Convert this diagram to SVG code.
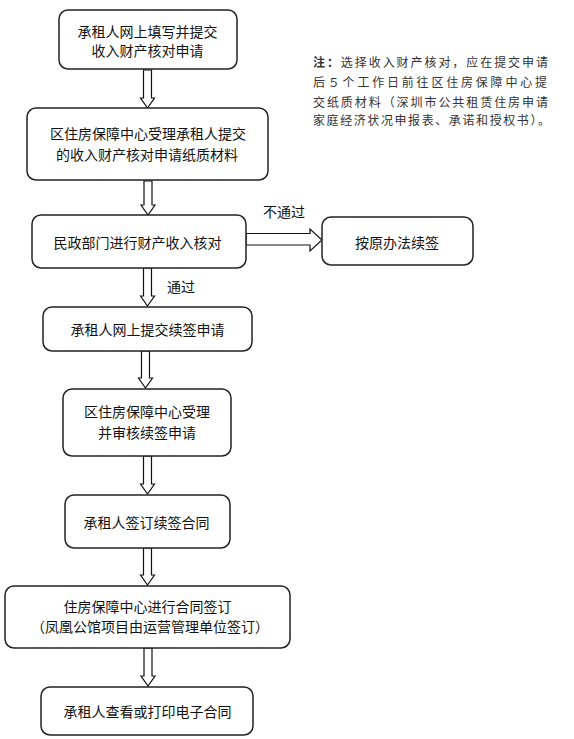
<svg xmlns="http://www.w3.org/2000/svg" width="574" height="739" viewBox="0 0 574 739">
<style>
.box{fill:#fff;stroke:#222;stroke-width:1.5}
.t{font-family:"Noto Sans CJK SC","Liberation Sans",sans-serif;font-size:14px;fill:#111;text-anchor:middle}
.n{font-family:"Noto Sans CJK SC","Liberation Serif",serif;font-size:12px;fill:#333}
.arr{fill:#fff;stroke:#111;stroke-width:1.2;stroke-linejoin:miter}
</style>
<rect width="574" height="739" fill="#fff"/>
<g id="connectors">
<polygon class="arr" points="143.5,70 151.5,70 151.5,98 154.5,98 147.5,108 140.5,98 143.5,98"/>
<polygon class="arr" points="144,181 152,181 152,205 155,205 148,215 141,205 144,205"/>
<polygon class="arr" points="143.5,268 151.5,268 151.5,296 154.5,296 147.5,306 140.5,296 143.5,296"/>
<polygon class="arr" points="141.5,351 149.5,351 149.5,378 152.5,378 145.5,388 138.5,378 141.5,378"/>
<polygon class="arr" points="143.5,456 151.5,456 151.5,484 154.5,484 147.5,494 140.5,484 143.5,484"/>
<polygon class="arr" points="143.5,548 151.5,548 151.5,575 154.5,575 147.5,585 140.5,575 143.5,575"/>
<polygon class="arr" points="144,648 152,648 152,676 155,676 148,686 141,676 144,676"/>
<polygon class="arr" points="246,233.5 310,233.5 310,229 322,240 310,251 310,245 246,245"/>
<text class="t" x="284" y="217">不通过</text>
<text class="t" x="181" y="292">通过</text>
</g>
<g id="n1"><rect class="box" x="59" y="10" width="178" height="59" rx="9"/>
<text class="t" x="147.5" y="37">承租人网上填写并提交</text>
<text class="t" x="147.5" y="55.5">收入财产核对申请</text></g>
<g id="n2"><rect class="box" x="27" y="108" width="241" height="72" rx="9"/>
<text class="t" x="148" y="139">区住房保障中心受理承租人提交</text>
<text class="t" x="147" y="160">的收入财产核对申请纸质材料</text></g>
<g id="n3"><rect class="box" x="32" y="215" width="214" height="53" rx="9"/>
<text class="t" x="137.5" y="248">民政部门进行财产收入核对</text></g>
<g id="n4"><rect class="box" x="322" y="217" width="151" height="48" rx="9"/>
<text class="t" x="397" y="248">按原办法续签</text></g>
<g id="n5"><rect class="box" x="43" y="307" width="209" height="44" rx="9"/>
<text class="t" x="147.5" y="335">承租人网上提交续签申请</text></g>
<g id="n6"><rect class="box" x="63" y="389" width="168" height="67" rx="9"/>
<text class="t" x="147" y="417">区住房保障中心受理</text>
<text class="t" x="147" y="438">并审核续签申请</text></g>
<g id="n7"><rect class="box" x="65" y="495" width="165" height="53" rx="9"/>
<text class="t" x="146.5" y="528">承租人签订续签合同</text></g>
<g id="n8"><rect class="box" x="5" y="586" width="285" height="62" rx="9"/>
<text class="t" x="147.5" y="612">住房保障中心进行合同签订</text>
<text class="t" x="150" y="632">（凤凰公馆项目由运营管理单位签订）</text></g>
<g id="n9"><rect class="box" x="41" y="687" width="212" height="48" rx="9"/>
<text class="t" x="147.5" y="717">承租人查看或打印电子合同</text></g>
<g id="note">
<text class="n" x="313" y="66.5" textLength="235" lengthAdjust="spacing"><tspan font-weight="bold">注：</tspan>选择收入财产核对，应在提交申请</text>
<text class="n" x="313" y="86.5" textLength="234" lengthAdjust="spacing">后５个工作日前往区住房保障中心提</text>
<text class="n" x="313" y="106.5" textLength="235" lengthAdjust="spacing">交纸质材料（深圳市公共租赁住房申请</text>
<text class="n" x="313" y="124.5" textLength="237" lengthAdjust="spacing">家庭经济状况申报表、承诺和授权书）。</text>
</g>
</svg>
